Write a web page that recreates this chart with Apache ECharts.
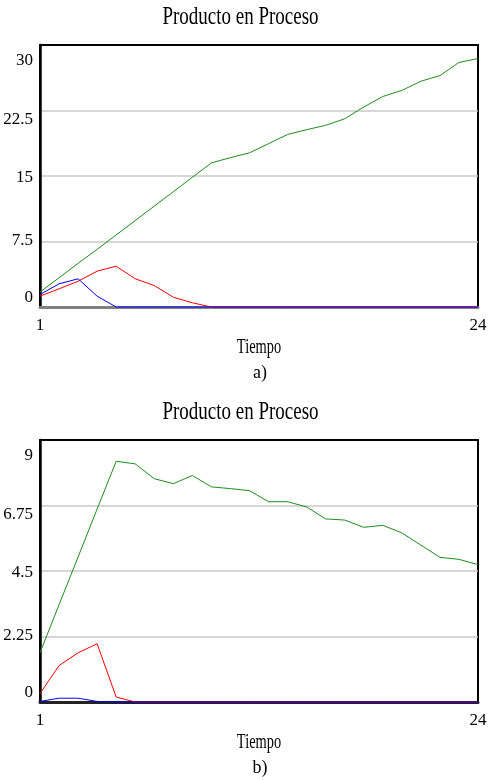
<!DOCTYPE html>
<html>
<head>
<meta charset="utf-8">
<script src="https://cdn.jsdelivr.net/npm/echarts@6/dist/echarts.min.js"></script>
<style>
html,body{margin:0;padding:0;background:#fff;}
#c{width:500px;height:780px;}
</style>
</head>
<body>
<div id="c"></div>
<script>
// ---- data ----
const tiempo = ['1','2','3','4','5','6','7','8','9','10','11','12','13','14','15','16','17','18','19','20','21','22','23','24'];

const greenA = [1.7, 3.35, 5.0, 6.6, 8.25, 9.9, 11.55, 13.2, 14.85, 16.5, 17.1, 17.65, 18.7, 19.75, 20.3, 20.8, 21.55, 22.9, 24.1, 24.8, 25.85, 26.5, 28.0, 28.45];
const redA   = [1.24, 2.08, 2.95, 4.1, 4.67, 3.23, 2.46, 1.12, 0.48, 0, 0, 0, 0, 0, 0, 0, 0, 0, 0, 0, 0, 0, 0, 0];
const blueA  = [1.43, 2.65, 3.23, 1.24, 0, 0, 0, 0, 0, 0, 0, 0, 0, 0, 0, 0, 0, 0, 0, 0, 0, 0, 0, 0];

const greenB = [1.69, 3.34, 4.98, 6.63, 8.27, 8.18, 7.67, 7.5, 7.78, 7.39, 7.33, 7.26, 6.88, 6.88, 6.7, 6.29, 6.25, 6.0, 6.07, 5.81, 5.39, 4.97, 4.9, 4.72];
const redB   = [0.29, 1.25, 1.69, 2.0, 0.17, 0, 0, 0, 0, 0, 0, 0, 0, 0, 0, 0, 0, 0, 0, 0, 0, 0, 0, 0];
const blueB  = [0.02, 0.13, 0.13, 0.02, 0, 0, 0, 0, 0, 0, 0, 0, 0, 0, 0, 0, 0, 0, 0, 0, 0, 0, 0, 0];

const ticksA = {min: 0, max: 30, interval: 7.5};
const ticksB = {min: 0, max: 9, interval: 2.25};

const titleText = 'Producto en Proceso';
const xName = 'Tiempo';
const captions = ['a)', 'b)'];

// ---- styles ----
const FONT = '"Liberation Serif", "Times New Roman", serif';
const labelShift = [-9, -1, 2, 9, 16];
const rich = {};
labelShift.forEach((s, i) => {
  rich['s' + i] = {
    fontFamily: FONT, fontSize: 17, color: '#000',
    padding: s >= 0 ? [2 * s, 0, 0, 0] : [0, 0, -2 * s, 0]
  };
});

function yAxis(gi, t) {
  return {
    type: 'value', gridIndex: gi, min: t.min, max: t.max, interval: t.interval,
    axisLine: {show: true, lineStyle: {color: '#000', width: 2.5}},
    axisTick: {show: false},
    axisLabel: {
      margin: 7,
      formatter: (v, i) => '{s' + i + '|' + v + '}',
      rich: rich
    },
    splitLine: {show: true, showMinLine: false, showMaxLine: false, lineStyle: {color: '#c8c8c8', width: 1.5}}
  };
}
function xAxis(gi, col) {
  return {
    type: 'category', gridIndex: gi, data: tiempo, boundaryGap: false,
    axisLine: {show: true, lineStyle: {color: col, width: 3}},
    axisTick: {show: false},
    axisLabel: {
      margin: 10, fontFamily: FONT, fontSize: 17, color: '#000',
      interval: (i) => i === 0 || i === tiempo.length - 1,
      showMinLabel: true, showMaxLabel: true
    },
    splitLine: {show: false}
  };
}
function line(gi, data, color, z) {
  return {
    type: 'line', xAxisIndex: gi, yAxisIndex: gi, data: data,
    symbol: 'none', clip: false, z: z,
    lineStyle: {color: color, width: 1},
    itemStyle: {color: color}
  };
}
function txt(x, y, text, size, sx) {
  return {
    type: 'text', x: x, y: y, scaleX: sx, z: 100,
    style: {x: 0, y: 0, text: text, fontFamily: FONT, fontSize: size, fill: '#000', align: 'center', verticalAlign: 'middle'}
  };
}

const chart = echarts.init(document.getElementById('c'), null, {renderer: 'canvas'});
chart.setOption({
  animation: false,
  backgroundColor: '#fff',
  grid: [
    {left: 40, top: 45, width: 438, height: 262, show: true, borderColor: '#000', borderWidth: 2, backgroundColor: 'transparent'},
    {left: 40, top: 440, width: 438, height: 262, show: true, borderColor: '#000', borderWidth: 2, backgroundColor: 'transparent'}
  ],
  xAxis: [xAxis(0, '#808080'), xAxis(1, '#222')],
  yAxis: [yAxis(0, ticksA), yAxis(1, ticksB)],
  series: [
    line(0, greenA, '#1e8c1e', 3),
    line(0, redA, '#ff0000', 4),
    line(0, blueA, '#0000ff', 5),
    line(1, greenB, '#1e8c1e', 3),
    line(1, redB, '#ff0000', 4),
    line(1, blueB, '#0000ff', 5)
  ],
  graphic: [
    txt(240.5, 17, titleText, 25, 0.76),
    txt(259, 347.5, xName, 20, 0.72),
    txt(260, 373, captions[0], 18, 1),
    txt(240.5, 412, titleText, 25, 0.76),
    txt(259, 742.5, xName, 20, 0.72),
    txt(260, 768, captions[1], 18, 1)
  ]
});
</script>
</body>
</html>
